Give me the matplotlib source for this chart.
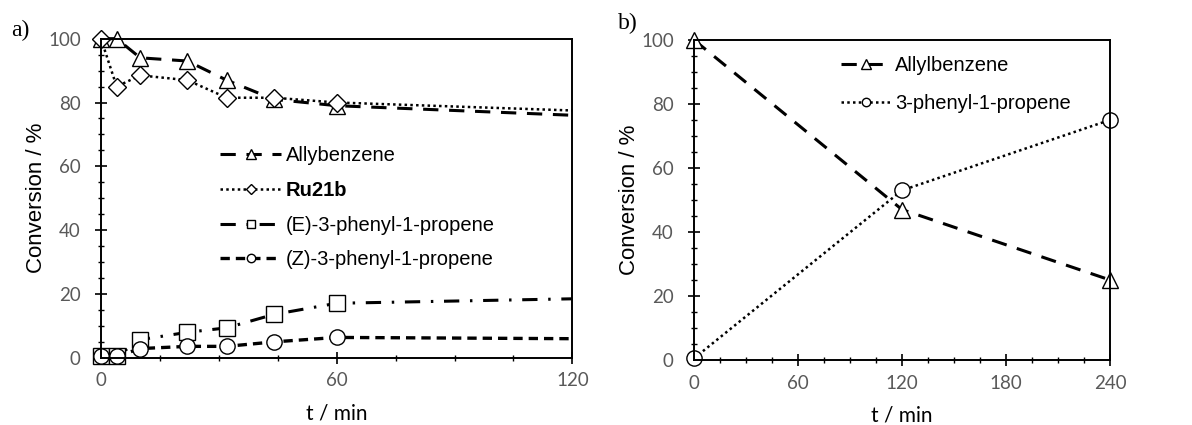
import numpy as np
import matplotlib
matplotlib.use('Agg')
import matplotlib.pyplot as plt
from matplotlib.ticker import MultipleLocator

plt.rcParams['font.family'] = ['Liberation Sans', 'DejaVu Sans']

# ── 数据：a) Ru21b 催化，b) 对照 ─────────────────────────
T_A = [0, 4, 10, 22, 32, 44, 60, 120]          # 120 只是趋势线终点，不画标记
ALLYL_A = [100, 100, 94, 93, 87, 81, 79, 76]
RU21B_A = [100, 85, 88.5, 87, 81.5, 81.5, 80, 77.5]
E_ISO_A = [0.5, 0.5, 5.7, 8.0, 9.4, 13.6, 17.1, 18.5]
Z_ISO_A = [0.5, 0.5, 2.9, 3.6, 3.6, 5.0, 6.4, 6.0]
N_MARK_A = 7

T_B = [0, 120, 240]
ALLYL_B = [100, 47, 25]
PHENYL_B = [0.5, 53, 75]

TICK_GREY = '#595959'
MK = dict(mfc='white', mec='black', mew=1.0, color='black')


def style_axes(ax, xmax, xmajor):
    ax.set_xlim(0, xmax)
    ax.set_ylim(0, 100)
    ax.xaxis.set_major_locator(MultipleLocator(xmajor))
    ax.xaxis.set_minor_locator(MultipleLocator(15))
    ax.yaxis.set_major_locator(MultipleLocator(20))
    ax.yaxis.set_minor_locator(MultipleLocator(5))
    ax.tick_params(which='major', direction='inout', length=9, width=1.2,
                   labelsize=13.5, labelcolor=TICK_GREY)
    ax.tick_params(axis='x', which='major', pad=6)
    ax.tick_params(axis='y', which='major', pad=10)
    ax.tick_params(which='minor', direction='inout', length=5, width=1.0)
    ax.tick_params(axis='both', labelfontfamily='Lato')
    for sp in ax.spines.values():
        sp.set_linewidth(1.4)
    ax.set_xlabel('t / min', fontsize=15, family='Lato', labelpad=10)
    ax.set_ylabel('Conversion / %', fontsize=16, labelpad=1)


fig = plt.figure(figsize=(11.92, 4.25), dpi=100)
ax1 = fig.add_axes([0.0847, 0.158, 0.3955, 0.751])
ax2 = fig.add_axes([0.5822, 0.153, 0.349, 0.753])

# a)
ax1.plot(T_A, ALLYL_A, ls=(0, (5, 3.5)), lw=2.2, marker='^', ms=12,
         markevery=list(range(N_MARK_A)), label='Allybenzene', **MK)
ax1.plot(T_A, RU21B_A, ls=(0, (1, 1.3)), lw=1.8, marker='D', ms=9,
         markevery=list(range(N_MARK_A)), label='Ru21b', **MK)
ax1.plot(T_A, E_ISO_A, ls=(0, (5, 3.5, 0.8, 3.5)), lw=2.2, marker='s', ms=11,
         markevery=list(range(N_MARK_A)), label='(E)-3-phenyl-1-propene', **MK)
ax1.plot(T_A, Z_ISO_A, ls=(0, (2.8, 1.8)), lw=2.4, marker='o', ms=11,
         markevery=list(range(N_MARK_A)), label='(Z)-3-phenyl-1-propene', **MK)
for ln in ax1.lines:
    ln.set_clip_on(False)
style_axes(ax1, 120, 60)
leg1 = ax1.legend(loc='upper left', bbox_to_anchor=(0.215, 0.72), frameon=False,
                  fontsize=14.5, handlelength=3.0, handletextpad=0.25,
                  labelspacing=0.78, markerscale=0.55)
leg1.get_texts()[1].set_fontweight('bold')

# b)
ax2.plot(T_B, ALLYL_B, ls=(0, (5, 3.5)), lw=2.2, marker='^', ms=12,
         label='Allylbenzene', clip_on=False, **MK)
ax2.plot(T_B, PHENYL_B, ls=(0, (1, 1.3)), lw=1.8, marker='o', ms=11,
         label='3-phenyl-1-propene', clip_on=False, **MK)
style_axes(ax2, 240, 60)
ax2.legend(loc='upper left', bbox_to_anchor=(0.31, 1.005), frameon=False,
           fontsize=14.5, handlelength=2.5, handletextpad=0.2,
           labelspacing=0.9, markerscale=0.55)

fig.text(0.009, 0.915, 'a)', fontsize=17, family='Liberation Serif')
fig.text(0.518, 0.932, 'b)', fontsize=17, family='Liberation Serif')

fig.savefig('out.png', dpi=100)
